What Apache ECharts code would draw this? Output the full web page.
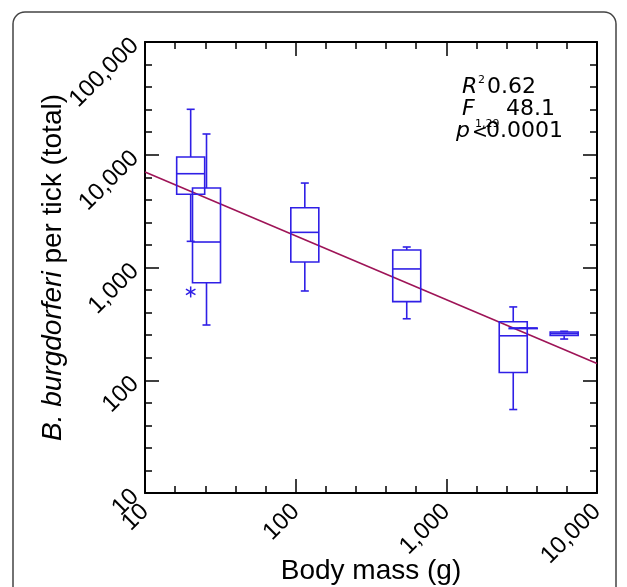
<!DOCTYPE html>
<html>
<head>
<meta charset="utf-8">
<script src="https://cdn.jsdelivr.net/npm/echarts@6/dist/echarts.min.js"></script>
<style>html,body{margin:0;padding:0;background:#fff;}#c{width:627px;height:587px;}</style>
</head>
<body>
<div id="c"></div>
<script>
// ---- data ----
const bodyMass     = [20.1, 25.6, 115, 546, 2780, 3236, 6055];   // box centres (g)
const whiskerLow   = [1706, 309, 619, 351, 55, 290, 232];
const quartile1    = [4460, 733, 1119, 498, 117, 290, 250];
const medianValue  = [6790, 1683, 2050, 971, 248, 290, 260];
const quartile3    = [9550, 5070, 3390, 1430, 330, 290, 268];
const whiskerHigh  = [25300, 15280, 5610, 1520, 447, 290, 272];
const outlierMass  = [20.1];
const outlierValue = [607];
const fitMass      = [10, 10000];
const fitValue     = [7030, 141];
const xTickValues  = [10, 100, 1000, 10000];
const yTickValues  = [10, 100, 1000, 10000, 100000];

const FONT = '"Liberation Sans", Arial, Helvetica, sans-serif';
const BLUE = '#2f1fe6';
const FIT = '#9e1457';

function commas(v) {
  return String(Math.round(v)).replace(/\B(?=(\d{3})+(?!\d))/g, ',');
}

const boxData = bodyMass.map((m, i) => [m, whiskerLow[i], quartile1[i], medianValue[i], quartile3[i], whiskerHigh[i]]);
const outlierData = outlierMass.map((m, i) => [m, outlierValue[i]]);
const fitData = fitMass.map((m, i) => [m, fitValue[i]]);

const chart = echarts.init(document.getElementById('c'), null, {renderer: 'canvas'});

function majorAxis(pos, isX, show) {
  const a = {
    type: 'log', logBase: 10, position: pos,
    min: isX ? xTickValues[0] : yTickValues[0],
    max: isX ? xTickValues[xTickValues.length - 1] : yTickValues[yTickValues.length - 1],
    axisLine: {show: true, onZero: false, lineStyle: {color: '#000', width: 2}},
    axisTick: {show: true, inside: true, length: 14, lineStyle: {color: '#000', width: 1.5}},
    axisLabel: {show: false},
    splitLine: {show: false},
    minorTick: {show: false},
    minorSplitLine: {show: false},
    nameMoveOverlap: false
  };
  if (show) {
    a.axisLabel = {
      show: true, rotate: 45, margin: isX ? 15 : 10,
      fontSize: 24, color: '#000', fontFamily: FONT,
      hideOverlap: false,
      formatter: v => commas(v)
    };
  }
  return a;
}
function minorAxis(pos, isX) {
  return {
    type: 'value', position: pos,
    min: 1, max: isX ? 4 : 5, interval: 0.2,
    axisLine: {show: false},
    axisTick: {show: true, inside: true, length: 7, lineStyle: {color: '#000', width: 1.5}},
    axisLabel: {show: false},
    splitLine: {show: false}
  };
}

const xMain = majorAxis('bottom', true, true);
xMain.name = 'Body mass (g)';
xMain.nameLocation = 'middle';
xMain.nameGap = 64;
xMain.nameTextStyle = {fontSize: 28, color: '#000', fontFamily: FONT};

const yMain = majorAxis('left', false, true);
yMain.name = '{i|B. burgdorferi} per tick (total)';
yMain.nameLocation = 'middle';
yMain.nameGap = 78;
yMain.nameTextStyle = {
  fontSize: 28, color: '#000', fontFamily: FONT,
  rich: {i: {fontStyle: 'italic', fontSize: 28, color: '#000', fontFamily: FONT}}
};

const annoBase = {fontFamily: '"DejaVu Sans", Verdana, sans-serif', fill: '#000'};
function txt(x, y, s, size, italic) {
  return {
    type: 'text', x: x, y: y, silent: true, z: 10,
    style: Object.assign({}, annoBase, {
      text: s, fontSize: size, fontStyle: italic ? 'italic' : 'normal',
      align: 'left', verticalAlign: 'middle'
    })
  };
}

const option = {
  animation: false,
  backgroundColor: '#fff',
  grid: {left: 145, right: 30, top: 42, bottom: 94, containLabel: false, outerBoundsMode: 'none'},
  xAxis: [xMain, minorAxis('bottom', true), majorAxis('top', true, false), minorAxis('top', true)],
  yAxis: [yMain, minorAxis('left', false), majorAxis('right', false, false), minorAxis('right', false)],
  graphic: [
    {type: 'rect', silent: true, shape: {x: 13, y: 12, width: 603, height: 640, r: 12},
     style: {fill: 'none', stroke: '#444', lineWidth: 1.5}},
    txt(462, 87, 'R', 22, true),
    txt(478, 80, '2', 11, false),
    txt(487, 87, '0.62', 22, false),
    txt(462, 109, 'F', 22, true),
    txt(475, 124, '1,29', 11, false),
    txt(506, 109, '48.1', 22, false),
    txt(456, 131, 'p', 22, true),
    txt(472, 133, '<', 19, false),
    txt(486, 131, '0.0001', 22, false)
  ],
  series: [
    {
      type: 'line', xAxisIndex: 0, yAxisIndex: 0,
      data: fitData, symbol: 'none', silent: true,
      lineStyle: {color: FIT, width: 1.6}, z: 3
    },
    {
      type: 'custom', xAxisIndex: 0, yAxisIndex: 0, silent: true,
      data: boxData,
      encode: {x: 0, y: [1, 2, 3, 4, 5]},
      z: 4,
      renderItem: function (params, api) {
        const x = api.value(0);
        const pLow = api.coord([x, api.value(1)]);
        const pQ1 = api.coord([x, api.value(2)]);
        const pMed = api.coord([x, api.value(3)]);
        const pQ3 = api.coord([x, api.value(4)]);
        const pHigh = api.coord([x, api.value(5)]);
        const cx = pMed[0];
        const hw = 14, cw = 4;
        const st = {stroke: BLUE, lineWidth: 1.6, fill: 'none'};
        const L = (x1, y1, x2, y2) => ({type: 'line', shape: {x1, y1, x2, y2}, style: st});
        return {
          type: 'group',
          children: [
            {type: 'rect', shape: {x: cx - hw, y: pQ3[1], width: 2 * hw, height: Math.max(pQ1[1] - pQ3[1], 0.5)}, style: st},
            L(cx - hw, pMed[1], cx + hw, pMed[1]),
            L(cx, pQ3[1], cx, pHigh[1]),
            L(cx - cw, pHigh[1], cx + cw, pHigh[1]),
            L(cx, pQ1[1], cx, pLow[1]),
            L(cx - cw, pLow[1], cx + cw, pLow[1])
          ]
        };
      }
    },
    {
      type: 'custom', xAxisIndex: 0, yAxisIndex: 0, silent: true,
      data: outlierData,
      encode: {x: 0, y: 1},
      z: 4,
      renderItem: function (params, api) {
        const p = api.coord([api.value(0), api.value(1)]);
        const r = 5.5;
        const st = {stroke: BLUE, lineWidth: 1.5};
        const kids = [];
        [90, 30, -30].forEach(a => {
          const rad = a * Math.PI / 180;
          const dx = r * Math.cos(rad), dy = r * Math.sin(rad);
          kids.push({type: 'line', shape: {x1: p[0] - dx, y1: p[1] - dy, x2: p[0] + dx, y2: p[1] + dy}, style: st});
        });
        return {type: 'group', children: kids};
      }
    }
  ]
};
chart.setOption(option);
</script>
</body>
</html>
